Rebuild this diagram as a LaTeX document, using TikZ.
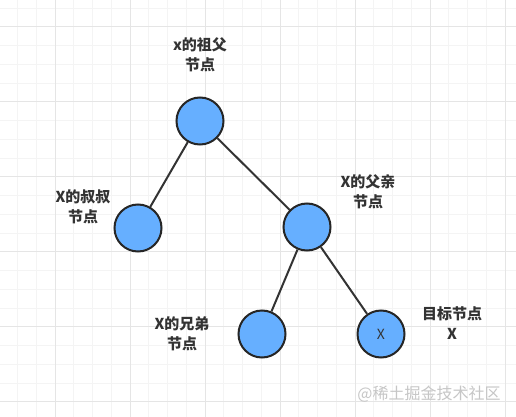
\documentclass[tikz,border=0pt]{standalone}
\usepackage{fontspec}
\newfontfamily\cjk{Noto Sans CJK SC}
\usepackage{tikz}
\usetikzlibrary{arrows.meta, positioning}
\usepackage{xcolor}
\definecolor{nodeblue}{RGB}{102,175,255}
\definecolor{inkdark}{RGB}{38,38,38}
\definecolor{textdark}{RGB}{51,51,51}

\begin{document}
\begin{tikzpicture}[
    x=1pt, y=-1pt,
    treenode/.style={circle, draw=inkdark, line width=2pt, fill=nodeblue, minimum size=47pt, inner sep=0pt, font=\cjk\fontsize{14}{16}\selectfont, text=textdark},
    tag/.style={align=center, text=textdark, font=\cjk\bfseries\fontsize{15}{20}\selectfont},
    edge/.style={draw=textdark, line width=2pt},
    minorline/.style={draw=gray!9, line width=0.8pt},
    majorline/.style={draw=gray!20, line width=0.8pt}
]
\useasboundingbox (0,0) rectangle (516,417);
\fill[white] (0,0) rectangle (516,417);

% background grid
\foreach \i in {0,...,27} {
    \draw[minorline] (17.5+18.75*\i,0) -- (17.5+18.75*\i,417);
}
\foreach \j in {0,...,22} {
    \draw[minorline] (0,7.95+18.75*\j) -- (516,7.95+18.75*\j);
}
\foreach \i in {0,...,6} {
    \draw[majorline] (55+75*\i,0) -- (55+75*\i,417);
}
\foreach \j in {0,...,5} {
    \draw[majorline] (0,26.7+75*\j) -- (516,26.7+75*\j);
}

% tree nodes
\node[treenode] (grandpa) at (200,121) {};
\node[treenode] (uncle) at (138,228) {};
\node[treenode] (parent) at (307,227) {};
\node[treenode] (brother) at (262,334) {};
\node[treenode] (target) at (381,334) {X};

% labels
\node[tag] (grandpatag) at (200,54.5) {x的祖父\\节点};
\node[tag] (uncletag) at (83,206.5) {X的叔叔\\节点};
\node[tag] (parenttag) at (368,192) {X的父亲\\节点};
\node[tag] (brothertag) at (182,334) {X的兄弟\\节点};
\node[tag] (targettag) at (452,323.5) {目标节点\\X};

% edges
\draw[edge] (grandpa) -- (uncle);
\draw[edge] (grandpa) -- (parent);
\draw[edge] (parent) -- (brother);
\draw[edge] (parent) -- (target);

% watermark
\node[text=gray!45, font=\cjk\fontsize{16}{18}\selectfont] (mark) at (429,394) {@稀土掘金技术社区};
\end{tikzpicture}
\end{document}
